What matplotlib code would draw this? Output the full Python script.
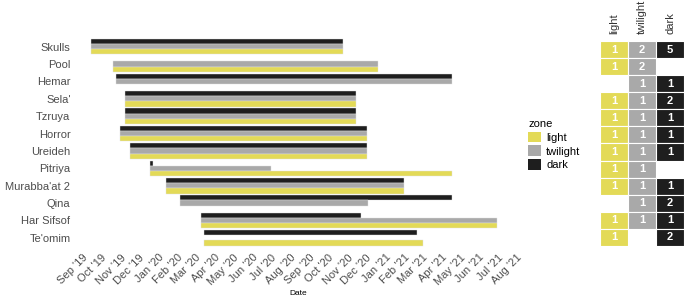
import numpy as np
import pandas as pd
import matplotlib
matplotlib.use("Agg")
import matplotlib.pyplot as plt
import matplotlib.dates as mdates
from matplotlib.patches import Patch

plt.rcParams['font.family'] = ['Liberation Sans', 'DejaVu Sans']

# 洞穴名称（自上而下）
sites = ["Skulls", "Pool", "Hemar", "Sela'", "Tzruya", "Horror", "Ureideh",
         "Pitriya", "Murabba'at 2", "Qina", "Har Sifsof", "Te'omim"]

# 各区域记录的起止日期（None 表示没有记录）
dark_start = ["2019-09-14", None, "2019-10-24", "2019-11-08", "2019-11-08", "2019-10-31",
              "2019-11-16", "2019-12-18", "2020-01-14", "2020-02-04", "2020-03-09", "2020-03-14"]
dark_end = ["2020-10-24", None, "2021-04-18", "2020-11-14", "2020-11-14", "2020-12-02",
            "2020-12-02", "2019-12-24", "2021-01-31", "2021-04-18", "2020-11-22", "2021-02-21"]
twilight_start = ["2019-09-14", "2019-10-19", "2019-10-24", "2019-11-08", "2019-11-08", "2019-10-31",
                  "2019-11-16", "2019-12-18", "2020-01-14", "2020-02-04", "2020-03-09", None]
twilight_end = ["2020-10-24", "2020-12-20", "2021-04-18", "2020-11-14", "2020-11-14", "2020-12-02",
                "2020-12-02", "2020-06-30", "2021-01-31", "2020-12-04", "2021-06-30", None]
light_start = ["2019-09-14", "2019-10-19", None, "2019-11-08", "2019-11-08", "2019-10-31",
               "2019-11-16", "2019-12-18", "2020-01-14", None, "2020-03-09", "2020-03-14"]
light_end = ["2020-10-24", "2020-12-20", None, "2020-11-14", "2020-11-14", "2020-12-02",
             "2020-12-02", "2021-04-18", "2021-01-31", None, "2021-06-30", "2021-03-02"]

# 每个洞穴各区域的记录器数量
zones = ["light", "twilight", "dark"]
n_light = [1, 1, np.nan, 1, 1, 1, 1, 1, 1, np.nan, 1, 1]
n_twilight = [2, 2, 1, 1, 1, 1, 1, 1, 1, 1, 1, np.nan]
n_dark = [5, np.nan, 1, 2, 1, 1, 1, np.nan, 1, 2, 1, 2]

colors = {"light": "#E3DA57", "twilight": "#A9A9A9", "dark": "#1E1E1E"}
bar_h = 0.3
offsets = {"dark": -0.3, "twilight": 0.0, "light": 0.3}

fig = plt.figure(figsize=(6.85, 2.97), dpi=100)
ax = fig.add_axes([0.109, 0.164, 0.653, 0.714])

series = {"dark": (dark_start, dark_end),
          "twilight": (twilight_start, twilight_end),
          "light": (light_start, light_end)}

for zone, (starts, ends) in series.items():
    for i, (s, e) in enumerate(zip(starts, ends)):
        if s is None:
            continue
        s_num = mdates.date2num(pd.Timestamp(s))
        e_num = mdates.date2num(pd.Timestamp(e))
        ax.barh(i + offsets[zone], e_num - s_num, left=s_num, height=bar_h,
                color=colors[zone], edgecolor="#E2E2E2", linewidth=0.3)

ax.set_ylim(len(sites) - 0.4, -0.6)
ax.set_yticks(range(len(sites)))
ax.set_yticklabels(sites, fontsize=8, color="#4D4D4D")

ax.set_xlim(mdates.date2num(pd.Timestamp("2019-08-19")), mdates.date2num(pd.Timestamp("2021-08-09")))
ticks = pd.date_range("2019-09-01", "2021-08-01", freq="MS")
ax.set_xticks(mdates.date2num(ticks))
ax.set_xticklabels([t.strftime("%b '%y") for t in ticks], rotation=45, ha="right",
                   rotation_mode="anchor", fontsize=8, color="#4D4D4D")
ax.tick_params(length=0, pad=3)
ax.set_xlabel("Date", fontsize=6, labelpad=2)
for sp in ax.spines.values():
    sp.set_visible(False)

# 右侧数量热图
hx = fig.add_axes([0.876, 0.172, 0.1226, 0.69])
counts = np.array([n_light, n_twilight, n_dark]).T
for i in range(len(sites)):
    for j, zone in enumerate(zones):
        v = counts[i, j]
        if np.isnan(v):
            continue
        hx.add_patch(plt.Rectangle((j - 0.5, i - 0.5), 1, 1, facecolor=colors[zone],
                                   edgecolor="white", linewidth=0.8))
        hx.text(j, i, str(int(v)), ha="center", va="center", color="white",
                fontsize=8, fontweight="bold")
hx.set_xlim(-0.5, 2.5)
hx.set_ylim(len(sites) - 0.5, -0.5)
hx.xaxis.tick_top()
hx.set_xticks(range(3))
hx.set_xticklabels(zones, rotation=90, fontsize=8, color="#333333")
hx.set_yticks([])
hx.tick_params(length=0, pad=5)
for sp in hx.spines.values():
    sp.set_visible(False)

handles = [Patch(facecolor=colors[z], edgecolor="none", label=z) for z in zones]
fig.legend(handles=handles, title="zone", loc="upper left", bbox_to_anchor=(0.765, 0.615),
           frameon=False, fontsize=8, title_fontsize=8, handlelength=1.1, handleheight=1.1,
           handletextpad=0.5, labelspacing=0.25, alignment="left", borderaxespad=0)

fig.savefig("out.png", dpi=100)
